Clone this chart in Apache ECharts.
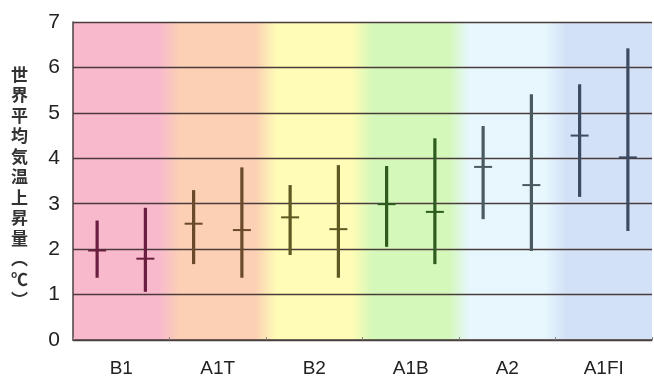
<!DOCTYPE html>
<html><head><meta charset="utf-8">
<script src="https://cdn.jsdelivr.net/npm/echarts@6/dist/echarts.min.js"></script>
<style>html,body{margin:0;padding:0;background:#fff}#c{width:654px;height:383px}</style>
</head><body><div id="c"></div>
<script>
// Scenarios (x-axis labels)
var scenarios = ['B1', 'A1T', 'B2', 'A1B', 'A2', 'A1FI'];
// First range bar of each scenario
var mean1 = [1.97, 2.56, 2.70, 2.99, 3.81, 4.50];
var low1  = [1.37, 1.67, 1.87, 2.05, 2.66, 3.15];
var high1 = [2.63, 3.30, 3.41, 3.83, 4.71, 5.63];
// Second range bar of each scenario
var mean2 = [1.79, 2.42, 2.44, 2.82, 3.41, 4.02];
var low2  = [1.06, 1.37, 1.37, 1.67, 1.96, 2.40];
var high2 = [2.91, 3.80, 3.85, 4.44, 5.41, 6.42];
// Y tick labels
var yTicks = [0, 1, 2, 3, 4, 5, 6, 7];

var barColors = ['#6a1f40', '#6b4a2c', '#5c5a22', '#2e5c1f', '#4b5a60', '#3c4b60'];
var bandColors = ['#f8b9cd', '#fcd0b4', '#fefcb6', '#d3f8b9', '#e7f7fd', '#d3e1f6'];

var slots = [];
var rows = [];
scenarios.forEach(function (s, i) {
  slots.push(s + '_1', s + '_2');
  rows.push([2 * i, low1[i], high1[i], mean1[i], i]);
  rows.push([2 * i + 1, low2[i], high2[i], mean2[i], i]);
});

var stops = [];
var n = bandColors.length, blur = 0.018;
bandColors.forEach(function (c, i) {
  stops.push({offset: Math.max(0, i / n + (i ? blur : 0)), color: c});
  stops.push({offset: Math.min(1, (i + 1) / n - (i < n - 1 ? blur : 0)), color: c});
});

var fam = 'Liberation Sans, Arial, sans-serif';
var chart = echarts.init(document.getElementById('c'), null, {renderer: 'canvas'});
chart.setOption({
  animation: false,
  grid: {
    left: 73, right: 2, top: 22, bottom: 43, show: true, borderWidth: 0,
    backgroundColor: new echarts.graphic.LinearGradient(0, 0, 1, 0, stops)
  },
  xAxis: [{
    type: 'category', data: slots, position: 'bottom',
    axisLine: {lineStyle: {color: '#4a4040', width: 1.5}},
    axisTick: {show: true, length: 3, inside: true, lineStyle: {color: '#8a8080'}},
    axisLabel: {show: false}
  }, {
    type: 'category', data: scenarios, position: 'bottom',
    axisLine: {show: false}, axisTick: {show: false},
    axisLabel: {color: '#222', fontSize: 19, fontFamily: fam, margin: 19}
  }],
  yAxis: {
    type: 'value', min: 0, max: 7, interval: 1,
    axisLine: {show: true, lineStyle: {color: '#4a4040', width: 1.5}},
    axisTick: {show: false},
    axisLabel: {color: '#222', fontSize: 21, fontFamily: fam, margin: 13,
      formatter: function (v) { return yTicks.indexOf(v) >= 0 ? String(v) : ''; }},
    splitLine: {lineStyle: {color: '#4a3c3c', width: 1.3}}
  },
  graphic: [{
    type: 'text', left: 11, top: 64,
    style: {
      text: '世\n界\n平\n均\n気\n温\n上\n昇\n量\n︵\n℃\n︶',
      font: 'bold 17px "Noto Sans CJK JP"', fill: '#333', lineHeight: 20.5, align: 'center'
    }
  }],
  series: [{
    type: 'custom', xAxisIndex: 0, yAxisIndex: 0,
    data: rows,
    encode: {x: 0, y: [1, 2, 3]},
    renderItem: function (params, api) {
      var x = api.value(0);
      var lo = api.coord([x, api.value(1)]);
      var hi = api.coord([x, api.value(2)]);
      var mid = api.coord([x, api.value(3)]);
      var col = barColors[api.value(4)];
      return {
        type: 'group',
        children: [{
          type: 'line',
          shape: {x1: lo[0], y1: lo[1], x2: hi[0], y2: hi[1]},
          style: {stroke: col, lineWidth: 3.2}
        }, {
          type: 'line',
          shape: {x1: mid[0] - 9, y1: mid[1], x2: mid[0] + 9, y2: mid[1]},
          style: {stroke: col, lineWidth: 2}
        }]
      };
    }
  }]
});
</script></body></html>
